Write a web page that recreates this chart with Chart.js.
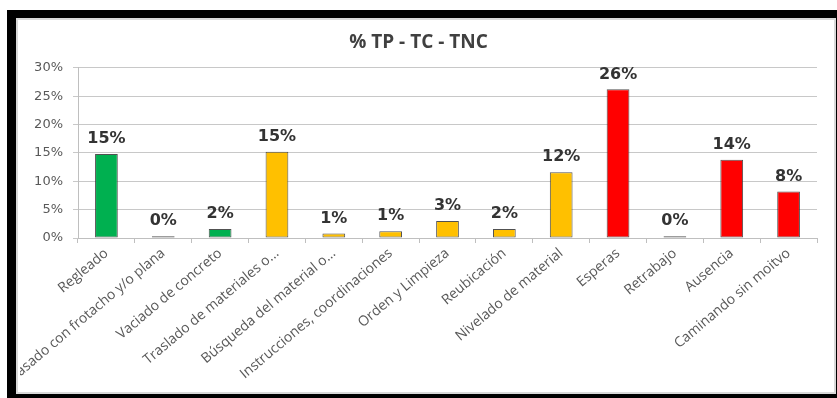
<!DOCTYPE html>
<html>
<head>
<meta charset="utf-8">
<script src="https://cdn.jsdelivr.net/npm/chart.js@4"></script>
<style>
  body { margin: 0; width: 837px; height: 398px; overflow: hidden; background: #fff; }
  #frame { position: absolute; left: 7px; top: 10px; width: 840px; height: 392px; background: #000; }
  #panel { position: absolute; left: 16px; top: 18px; width: 820px; height: 376px; background: #fff;
           border: 2px solid #d9d9d9; box-sizing: border-box; }
  #wrap { position: absolute; left: 20px; top: 21px; width: 814px; height: 370px; }
</style>
</head>
<body>
<div id="frame"></div>
<div id="panel"></div>
<div id="wrap"><canvas id="tiempos"></canvas></div>
<script>
// Categorias y porcentajes
const categorias = [
  'Regleado',
  'Pasado con frotacho y/o plana',
  'Vaciado de concreto',
  'Traslado de materiales o...',
  'Búsqueda del material o...',
  'Instrucciones, coordinaciones',
  'Orden y Limpieza',
  'Reubicación',
  'Nivelado de material',
  'Esperas',
  'Retrabajo',
  'Ausencia',
  'Caminando sin moitvo'
];
const porcentajes = [14.8, 0.3, 1.6, 15.2, 0.8, 1.2, 3.0, 1.6, 11.6, 26.2, 0.3, 13.8, 8.2];
// TP = trabajo productivo, TC = contributorio, TNC = no contributorio
const tipo = ['TP', 'TP', 'TP', 'TC', 'TC', 'TC', 'TC', 'TC', 'TC', 'TNC', 'TNC', 'TNC', 'TNC'];
const ticksY = [0, 5, 10, 15, 20, 25, 30];

const colorTipo = { TP: '#00b050', TC: '#ffc000', TNC: '#ff0000' };

// etiquetas de valor encima de cada barra
const etiquetas = {
  id: 'etiquetas',
  afterDatasetsDraw(chart) {
    const ctx = chart.ctx;
    const meta = chart.getDatasetMeta(0);
    ctx.save();
    ctx.font = 'bold 16px "DejaVu Sans"';
    ctx.fillStyle = '#333333';
    ctx.textAlign = 'center';
    ctx.textBaseline = 'bottom';
    meta.data.forEach((bar, i) => {
      ctx.fillText(Math.round(porcentajes[i]) + '%', bar.x, bar.y - 7);
    });
    ctx.restore();
  }
};

new Chart(document.getElementById('tiempos'), {
  type: 'bar',
  data: {
    labels: categorias,
    datasets: [{
      data: porcentajes,
      backgroundColor: tipo.map(t => colorTipo[t]),
      borderColor: 'rgba(50,50,50,0.85)',
      borderWidth: 1,
      borderSkipped: false,
      barPercentage: 0.4,
      categoryPercentage: 1
    }]
  },
  options: {
    responsive: true,
    maintainAspectRatio: false,
    animation: false,
    layout: { padding: { right: 17 } },
    plugins: {
      legend: { display: false },
      tooltip: { enabled: false },
      title: {
        display: true,
        text: '% TP - TC - TNC',
        color: '#404040',
        font: { family: 'Open Sans', size: 19, weight: 'bold' },
        padding: { top: 10, bottom: 14 }
      }
    },
    scales: {
      x: {
        grid: {
          offset: true,
          drawOnChartArea: false,
          tickLength: 5,
          color: '#bfbfbf'
        },
        border: { color: '#bfbfbf' },
        ticks: {
          autoSkip: false,
          minRotation: 40,
          maxRotation: 40,
          padding: 2,
          color: '#595959',
          font: { family: 'Open Sans', size: 14 }
        },
        afterFit: s => { s.height = 153; }
      },
      y: {
        min: 0,
        max: 30,
        afterBuildTicks: s => { s.ticks = ticksY.map(v => ({ value: v })); },
        grid: { color: '#c8c8c8', tickLength: 5 },
        border: { color: '#bfbfbf' },
        ticks: {
          padding: 10,
          color: '#595959',
          font: { family: 'DejaVu Sans', size: 13 },
          callback: v => v + '%'
        },
        afterFit: s => { s.width = 58; }
      }
    }
  },
  plugins: [etiquetas]
});
</script>
</body>
</html>
